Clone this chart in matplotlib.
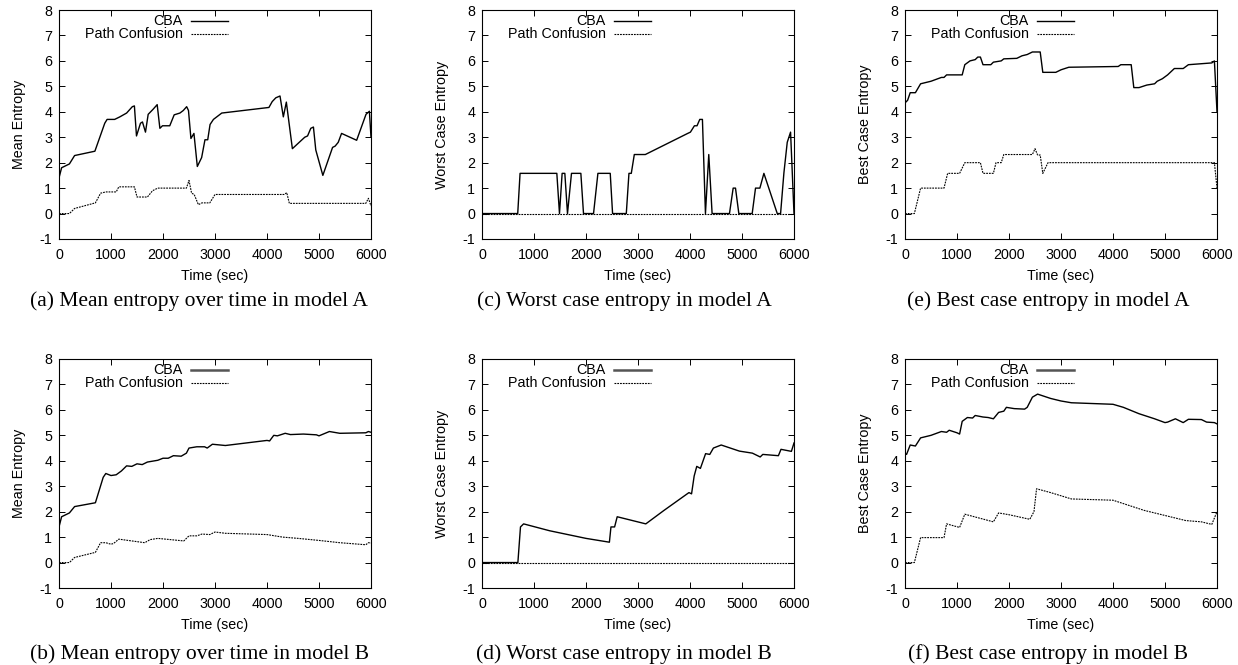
import matplotlib
matplotlib.use('Agg')
import matplotlib.pyplot as plt

plt.rcParams['font.family'] = ['Liberation Sans', 'DejaVu Sans']
plt.rcParams['axes.unicode_minus'] = False

# (a) mean entropy, model A
mean_a_cba_t = [0, 50, 200, 300, 690, 880, 925, 1070, 1170, 1300, 1410, 1450, 1490, 1567, 1605, 1663,
                1715, 1810, 1888, 1940, 1990, 2130, 2215, 2325, 2390, 2455, 2490, 2537, 2595, 2660,
                2743, 2807, 2860, 2905, 2970, 3130, 4037, 4100, 4170, 4250, 4314, 4372, 4488, 4726,
                4780, 4842, 4893, 4938, 5074, 5261, 5310, 5370, 5434, 5724, 5904, 5969, 6000]
mean_a_cba_v = [1.4, 1.8, 1.95, 2.28, 2.45, 3.55, 3.7, 3.7, 3.8, 3.95, 4.2, 4.23, 3.05, 3.55, 3.6, 3.2,
                3.9, 4.1, 4.28, 3.35, 3.45, 3.45, 3.88, 3.95, 4.05, 4.2, 4.05, 2.95, 3.15, 1.85,
                2.2, 2.9, 2.9, 3.5, 3.7, 3.95, 4.17, 4.4, 4.55, 4.62, 3.8, 4.38, 2.55, 3.0,
                3.05, 3.35, 3.4, 2.5, 1.5, 2.6, 2.65, 2.8, 3.15, 2.88, 3.9, 4.02, 3.0]
mean_a_pc_t = [0, 200, 300, 700, 800, 900, 1100, 1150, 1450, 1500, 1700, 1800, 1900, 2450, 2500,
               2550, 2600, 2680, 2750, 2900, 3000, 4330, 4380, 4430, 5900, 5950, 6000]
mean_a_pc_v = [0, 0, 0.2, 0.42, 0.8, 0.85, 0.85, 1.05, 1.05, 0.65, 0.65, 0.9, 1.0, 1.0, 1.3,
               0.8, 0.75, 0.35, 0.42, 0.42, 0.75, 0.75, 0.82, 0.4, 0.4, 0.6, 0.3]

# (c) worst case entropy, model A
worst_a_cba_t = [0, 687, 732, 1439, 1490, 1541, 1593, 1644, 1721, 1901, 1952, 2145, 2229, 2466, 2511,
                 2775, 2826, 2871, 2929, 3141, 3956, 4008, 4085, 4135, 4188, 4239, 4297, 4361, 4425,
                 4759, 4830, 4875, 4939, 5196, 5260, 5344, 5421, 5678, 5742, 5806, 5870, 5934, 6000]
worst_a_cba_v = [0, 0, 1.58, 1.58, 0, 1.58, 1.58, 0, 1.58, 1.58, 0, 0, 1.58, 1.58, 0,
                 0, 1.58, 1.58, 2.32, 2.32, 3.15, 3.2, 3.45, 3.45, 3.7, 3.7, 0, 2.32, 0,
                 0, 1.0, 1.0, 0, 0, 1.0, 1.0, 1.58, 0, 0, 1.6, 2.8, 3.2, 0]
worst_a_pc_t = [0, 6000]
worst_a_pc_v = [0, 0]

# (e) best case entropy, model A
best_a_cba_t = [0, 50, 100, 200, 300, 500, 700, 750, 800, 1100, 1150, 1250, 1350, 1400, 1450, 1500,
                1650, 1700, 1850, 1900, 2150, 2250, 2350, 2450, 2600, 2650, 2900, 3000, 3150, 4100,
                4150, 4350, 4400, 4500, 4650, 4800, 4850, 4950, 5050, 5180, 5350, 5450, 5900, 5950, 6000]
best_a_cba_v = [4.35, 4.45, 4.75, 4.75, 5.1, 5.2, 5.35, 5.35, 5.45, 5.45, 5.85, 6.0, 6.05, 6.15, 6.15, 5.85,
                5.85, 5.95, 6.0, 6.08, 6.1, 6.2, 6.25, 6.35, 6.35, 5.55, 5.55, 5.65, 5.75, 5.78,
                5.85, 5.85, 4.95, 4.95, 5.05, 5.1, 5.2, 5.3, 5.45, 5.7, 5.7, 5.85, 5.92, 6.0, 4.0]
best_a_pc_t = [0, 180, 300, 750, 820, 1050, 1150, 1450, 1500, 1700, 1750, 1850, 1900, 2450, 2500,
               2550, 2600, 2650, 2750, 5950, 6000]
best_a_pc_v = [0, 0, 1.0, 1.0, 1.58, 1.58, 2.0, 2.0, 1.58, 1.58, 2.0, 2.0, 2.32, 2.32, 2.55,
               2.3, 2.3, 1.58, 2.0, 2.0, 1.0]

# (b) mean entropy, model B
mean_b_cba_t = [0, 50, 200, 300, 700, 850, 900, 1000, 1100, 1200, 1300, 1400, 1500, 1600, 1700, 1900,
                2000, 2100, 2200, 2350, 2450, 2500, 2650, 2800, 2850, 2950, 3200, 4000, 4050, 4130,
                4200, 4350, 4450, 4700, 4950, 5000, 5200, 5400, 5900, 5950, 6000]
mean_b_cba_v = [1.4, 1.8, 1.95, 2.2, 2.35, 3.35, 3.5, 3.42, 3.45, 3.6, 3.8, 3.78, 3.88, 3.85, 3.95, 4.02,
                4.1, 4.1, 4.2, 4.18, 4.3, 4.5, 4.55, 4.55, 4.5, 4.65, 4.6, 4.8, 4.78, 5.0,
                4.98, 5.08, 5.03, 5.05, 5.02, 4.98, 5.15, 5.08, 5.1, 5.15, 5.12]
mean_b_pc_t = [0, 200, 300, 700, 800, 900, 1000, 1050, 1150, 1650, 1750, 1900, 2400, 2500, 2650,
               2750, 2900, 3000, 3200, 4000, 4300, 4600, 5000, 5400, 5900, 5950, 6000]
mean_b_pc_v = [0, 0, 0.2, 0.4, 0.78, 0.78, 0.72, 0.75, 0.92, 0.78, 0.9, 0.95, 0.85, 1.05, 1.05,
               1.12, 1.1, 1.2, 1.15, 1.1, 1.0, 0.95, 0.87, 0.78, 0.7, 0.78, 0.77]

# (d) worst case entropy, model B
worst_b_cba_t = [0, 690, 740, 800, 1300, 2000, 2450, 2480, 2550, 2600, 3150, 3500, 3980, 4030, 4080,
                 4130, 4200, 4300, 4380, 4450, 4600, 4950, 5200, 5350, 5400, 5700, 5750, 5950, 6000]
worst_b_cba_v = [0, 0, 1.4, 1.52, 1.25, 0.95, 0.8, 1.4, 1.4, 1.8, 1.52, 2.05, 2.75, 2.7, 3.4,
                 3.78, 3.7, 4.28, 4.25, 4.5, 4.62, 4.38, 4.3, 4.15, 4.25, 4.2, 4.45, 4.37, 4.7]
worst_b_pc_t = [0, 6000]
worst_b_pc_v = [0, 0]

# (f) best case entropy, model B
best_b_cba_t = [0, 30, 100, 200, 300, 500, 700, 800, 850, 1000, 1050, 1100, 1200, 1300, 1350, 1500,
                1600, 1700, 1800, 1900, 1950, 2100, 2300, 2350, 2450, 2550, 2800, 3000, 3200, 4000,
                4200, 4500, 4800, 5000, 5050, 5200, 5350, 5450, 5700, 5800, 5950, 6000]
best_b_cba_v = [4.3, 4.25, 4.62, 4.58, 4.9, 5.0, 5.15, 5.12, 5.2, 5.1, 5.05, 5.55, 5.7, 5.68, 5.78, 5.72,
                5.7, 5.65, 5.9, 5.95, 6.1, 6.05, 6.03, 6.1, 6.5, 6.62, 6.45, 6.35, 6.28, 6.22,
                6.1, 5.85, 5.65, 5.5, 5.52, 5.65, 5.5, 5.63, 5.62, 5.52, 5.5, 5.45]
best_b_pc_t = [0, 180, 300, 750, 800, 1050, 1150, 1700, 1800, 2000, 2400, 2480, 2530, 2800, 3200,
               4000, 4600, 5000, 5400, 5700, 5900, 6000]
best_b_pc_v = [0, 0, 0.98, 0.98, 1.52, 1.38, 1.9, 1.6, 1.95, 1.88, 1.7, 2.0, 2.9, 2.75, 2.5,
               2.45, 2.05, 1.85, 1.65, 1.6, 1.5, 2.0]

series_labels = ['CBA', 'Path Confusion']
x_ticks = [0, 1000, 2000, 3000, 4000, 5000, 6000]
y_ticks = [-1, 0, 1, 2, 3, 4, 5, 6, 7, 8]

W, H = 1238, 665
fig = plt.figure(figsize=(W / 100, H / 100), dpi=100)

pc_style = (0, (1.6, 0.9))
fs = 10.3


def draw_panel(left_px, top_px, cba, pc, ylabel, caption, cap_x, cap_y, gray_key):
    ax = fig.add_axes([left_px / W, (H - top_px - 229) / H, 312 / W, 229 / H])
    ax.plot(cba[0], cba[1], color='black', lw=1.0)
    ax.plot(pc[0], pc[1], color='black', lw=0.8, linestyle=pc_style)
    ax.set_xlim(0, 6000)
    ax.set_ylim(-1, 8)
    ax.set_xticks(x_ticks)
    ax.set_yticks(y_ticks)
    ax.tick_params(direction='in', top=True, right=True, length=4, width=0.7,
                   labelsize=fs)
    ax.tick_params(axis='x', pad=6.5)
    ax.tick_params(axis='y', pad=5)
    for sp in ax.spines.values():
        sp.set_linewidth(0.8)
    ax.set_xlabel('Time (sec)', fontsize=fs)
    ax.xaxis.set_label_coords(0.5, -0.13)
    ax.set_ylabel(ylabel, fontsize=fs)
    ax.yaxis.set_label_coords(-0.105, 0.5)

    # gnuplot-style key: right-aligned labels, sample line to the right
    key_col = '#555555' if gray_key else 'black'
    key_lw = 1.8 if gray_key else 1.0
    ax.text(0.397, 0.953, series_labels[0], transform=ax.transAxes, ha='right', va='center',
            fontsize=fs)
    ax.plot([0.423, 0.542], [0.953, 0.953], transform=ax.transAxes, color=key_col, lw=key_lw)
    ax.text(0.397, 0.894, series_labels[1], transform=ax.transAxes, ha='right', va='center',
            fontsize=fs)
    ax.plot([0.423, 0.542], [0.894, 0.894], transform=ax.transAxes, color='black', lw=0.8,
            linestyle=pc_style)

    fig.text(cap_x / W, (H - cap_y) / H, caption, ha='center', va='center',
             fontsize=15.5, family=['Liberation Serif', 'DejaVu Serif'])
    return ax


draw_panel(59, 10, (mean_a_cba_t, mean_a_cba_v), (mean_a_pc_t, mean_a_pc_v),
           'Mean Entropy', '(a) Mean entropy over time in model A', 199, 301, False)
draw_panel(482, 10, (worst_a_cba_t, worst_a_cba_v), (worst_a_pc_t, worst_a_pc_v),
           'Worst Case Entropy', '(c) Worst case entropy in model A', 624, 301, False)
draw_panel(905, 10, (best_a_cba_t, best_a_cba_v), (best_a_pc_t, best_a_pc_v),
           'Best Case Entropy', '(e) Best case entropy in model A', 1048, 301, False)
draw_panel(59, 359, (mean_b_cba_t, mean_b_cba_v), (mean_b_pc_t, mean_b_pc_v),
           'Mean Entropy', '(b) Mean entropy over time in model B', 199, 654, True)
draw_panel(482, 359, (worst_b_cba_t, worst_b_cba_v), (worst_b_pc_t, worst_b_pc_v),
           'Worst Case Entropy', '(d) Worst case entropy in model B', 624, 654, True)
draw_panel(905, 359, (best_b_cba_t, best_b_cba_v), (best_b_pc_t, best_b_pc_v),
           'Best Case Entropy', '(f) Best case entropy in model B', 1048, 654, True)

fig.savefig('out.png', dpi=100)
